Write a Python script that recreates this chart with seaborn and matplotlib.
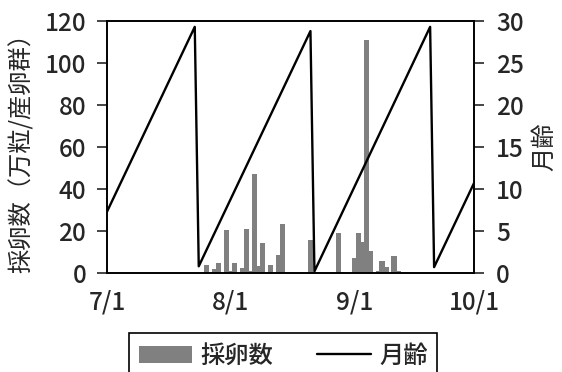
import datetime as dt
import matplotlib
matplotlib.use("Agg")
import matplotlib.pyplot as plt
import matplotlib.dates as mdates
import pandas as pd
import seaborn as sns

sns.set_style("white")
plt.rcParams["font.family"] = ["Noto Sans CJK JP", "DejaVu Sans"]
plt.rcParams["font.weight"] = "medium"

YEAR = 2025

# ---- 採卵数 (bars, left axis) ----
egg_dates = ["07-26", "07-28", "07-29", "07-31", "08-01", "08-02", "08-04", "08-05",
             "08-06", "08-07", "08-08", "08-09", "08-11", "08-13", "08-14", "08-21",
             "08-22", "08-28", "08-29", "09-01", "09-02", "09-03", "09-04", "09-05",
             "09-07", "09-08", "09-09", "09-11", "09-12"]
egg_counts = [4, 2, 5, 20.5, 1, 4.6, 2.5, 21, 1, 47, 3.3, 14.5, 4, 8.6, 23.3, 15.5,
              0.5, 19, 0.5, 7, 19.2, 15, 111, 10.6, 1, 5.7, 2.7, 8.2, 1]

# ---- 月齢 (line, right axis), corner points of the sawtooth ----
moon_dates = ["07-01", "07-23", "07-24", "08-21", "08-22", "09-20", "09-21", "10-01"]
moon_age = [7.3, 29.3, 0.8, 28.8, 0.2, 29.3, 0.7, 10.7]

tick_dates = ["07-01", "08-01", "09-01", "10-01"]
tick_labels = ["7/1", "8/1", "9/1", "10/1"]


def to_num(days):
    return [mdates.date2num(dt.date(YEAR, int(d[:2]), int(d[3:]))) for d in days]


eggs = pd.DataFrame({"x": to_num(egg_dates), "y": egg_counts})
moon = pd.DataFrame({"x": to_num(moon_dates), "y": moon_age})

FS = 17.5
fig = plt.figure(figsize=(5.62, 3.72), dpi=100)
ax = fig.add_axes([107 / 562, 1 - 273 / 372, (474 - 107) / 562, (273 - 21) / 372])

sns.barplot(data=eggs, x="x", y="y", native_scale=True, width=1.38,
            color="#808080", saturation=1, errorbar=None, linewidth=0,
            label="採卵数", ax=ax)

ax2 = ax.twinx()
sns.lineplot(data=moon, x="x", y="y", color="black", linewidth=1.7,
             label="月齢", ax=ax2, sort=False)

for a in (ax, ax2):
    if a.get_legend() is not None:
        a.get_legend().remove()

x0, x1 = to_num(["07-01", "10-01"])
ax.set_xlim(x0, x1)
ax.set_ylim(0, 120)
ax.set_yticks(range(0, 121, 20))
ax.set_xticks(to_num(tick_dates))
ax.set_xticklabels(tick_labels)
ax2.set_ylim(0, 30)
ax2.set_yticks(range(0, 31, 5))

ax.tick_params(axis="y", direction="out", length=7, width=1.2, labelsize=FS, pad=8)
ax.tick_params(axis="x", direction="out", length=6, width=1.2, labelsize=FS, pad=6)
ax2.tick_params(axis="y", direction="out", length=7, width=1.2, labelsize=FS, pad=9)

for a in (ax, ax2):
    for s in a.spines.values():
        s.set_color("black")
        s.set_linewidth(1.2)

ax.set_xlabel("")
ax.set_ylabel("採卵数（万粒/産卵群）", fontsize=FS, labelpad=7)
ax2.set_ylabel("月齢", fontsize=FS, labelpad=5)

h1, l1 = ax.get_legend_handles_labels()
h2, l2 = ax2.get_legend_handles_labels()
leg = fig.legend(h1 + h2, l1 + l2, loc="upper center", bbox_to_anchor=(0.504, 0.105),
                 bbox_transform=fig.transFigure, ncol=2, fontsize=FS, frameon=True,
                 fancybox=False, edgecolor="black", framealpha=1, handlelength=2.2,
                 handletextpad=0.35, columnspacing=1.8, borderpad=0.4,
                 borderaxespad=0)
leg.get_frame().set_linewidth(1.2)

fig.savefig("out.png", dpi=100)
